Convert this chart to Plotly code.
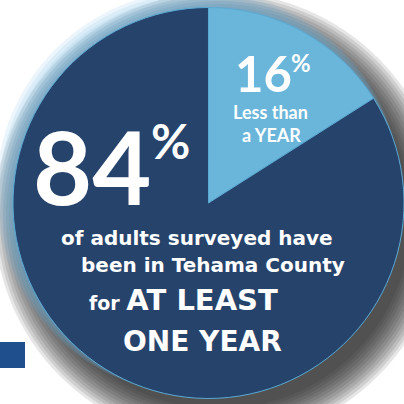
import plotly.graph_objects as go

labels = ["Less than a YEAR", "AT LEAST ONE YEAR"]
values = [16, 84]
colors = ["#6ab5da", "#26436c"]

W = H = 404
cx, cy, R = 209, 203, 196

def px(x):
    return x / W

def py(y):
    return 1 - y / H

fig = go.Figure()
fig.add_trace(go.Pie(
    labels=labels, values=values, sort=False, direction="clockwise", rotation=0,
    marker=dict(colors=colors, line=dict(color="#5aaad4", width=1.0)),
    textinfo="none", hoverinfo="label+percent", showlegend=False,
    domain=dict(x=[px(cx - R), 1], y=[py(cy + R), min(1, py(cy - R))]),
))

shapes = []
# soft shadow bottom-right
for i in range(12):
    ox, oy = 10, 14
    grow = i * 3.0 - 4
    shapes.append(dict(type="circle", xref="paper", yref="paper", layer="below",
                       x0=px(cx - R + ox - grow), x1=px(cx + R + ox + grow),
                       y0=py(cy + R + oy + grow), y1=py(cy - R + oy - grow),
                       fillcolor="rgba(30,30,30,0.11)", line=dict(width=0)))
# light glow top-left
for i in range(6):
    g = 2 + i * 3
    shapes.append(dict(type="circle", xref="paper", yref="paper", layer="below",
                       x0=px(cx - R - g), x1=px(cx + R - 4),
                       y0=py(cy + R - 4), y1=py(cy - R - g),
                       fillcolor="rgba(110,185,225,0.14)", line=dict(width=0)))
# dark blue block at left
shapes.append(dict(type="rect", xref="paper", yref="paper", layer="above",
                   x0=px(0), x1=px(25), y0=py(368), y1=py(342),
                   fillcolor="#1f4f8c", line=dict(width=0)))

FL = "Lato, 'Open Sans', sans-serif"
FD = "'DejaVu Sans', Lato, sans-serif"
def ann(text, x, y, size, fam=FL, xanchor="center", yanchor="middle"):
    return dict(text=text, x=px(x), y=py(y), xref="paper", yref="paper", showarrow=False,
                xanchor=xanchor, yanchor=yanchor, borderpad=0,
                font=dict(family=fam, size=size, color="white"))

annotations = [
    ann("<b>84</b>", 92, 166, 102),
    ann("<b>%</b>", 170, 140, 48),
    ann("<b>16</b>", 263, 73, 49),
    ann("<b>%</b>", 301, 62, 24),
    ann("<b>Less than</b>", 270, 112, 18),
    ann("<b>a YEAR</b>", 271, 135, 18),
    ann("<b>of adults surveyed have</b>", 197, 238, 20, FD),
    ann("<b>been in Tehama County</b>", 213, 265, 20, FD),
    ann("<b>for <span style='font-size:29px'>AT LEAST</span></b>", 183, 300, 19, FD),
    ann("<b>ONE YEAR</b>", 202, 341, 28, FD),
]

fig.update_layout(width=W, height=H, margin=dict(l=0, r=0, t=0, b=0),
                  paper_bgcolor="white", plot_bgcolor="white",
                  shapes=shapes, annotations=annotations)
fig.write_html("out.html")
